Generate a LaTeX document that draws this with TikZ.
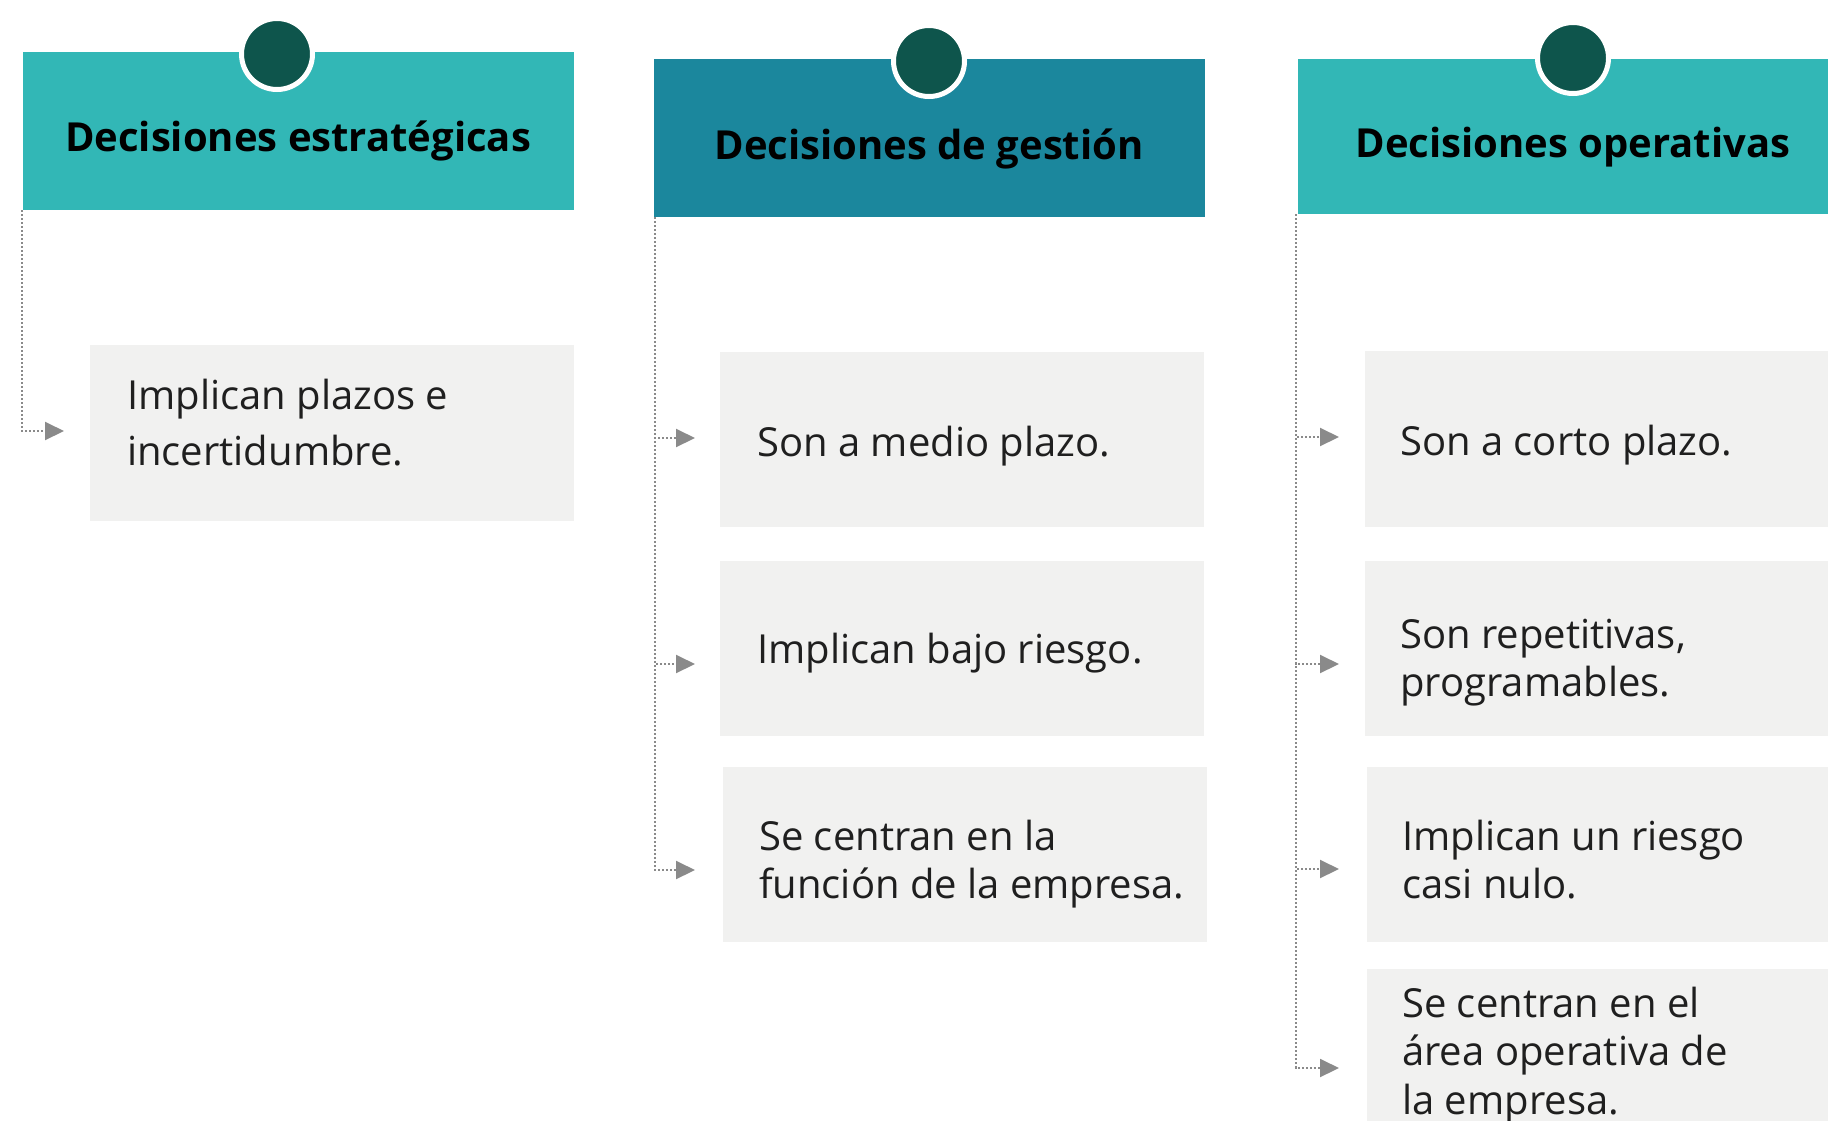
\documentclass[tikz,border=0pt]{standalone}
\usepackage{fontspec}
\setmainfont{Open Sans}
\usetikzlibrary{arrows.meta}
\definecolor{tealA}{HTML}{32B7B6}
\definecolor{tealB}{HTML}{1B879D}
\definecolor{darkdot}{HTML}{0E554C}
\definecolor{boxgray}{HTML}{F1F1F0}
\definecolor{txtc}{HTML}{1F1F1F}
\definecolor{conngray}{HTML}{8A8A8A}
\newcommand\linesA[2]{\vtop{\baselineskip=56pt\hbox{#1}\hbox{#2}}}
\newcommand\linesB[2]{\vtop{\baselineskip=48pt\hbox{#1}\hbox{#2}}}
\newcommand\linesC[3]{\vtop{\baselineskip=48.5pt\hbox{#1}\hbox{#2}\hbox{#3}}}
\begin{document}
\begin{tikzpicture}[x=1pt,y=-1pt,
  hdrbox/.style={rectangle, inner sep=0pt, minimum width=551pt, minimum height=158pt, anchor=north west},
  hdrtxt/.style={inner sep=0pt, anchor=base, text=black, font=\fontsize{40}{48}\selectfont\bfseries},
  dot/.style={circle, fill=darkdot, draw=white, line width=5pt, minimum size=71pt, inner sep=0pt},
  itembox/.style={rectangle, fill=boxgray, inner sep=0pt, minimum width=484pt, minimum height=175pt, anchor=north west},
  itemtxt/.style={inner sep=0pt, anchor=base west, text=txtc, font=\fontsize{40}{48}\selectfont},
  conn/.style={draw=conngray, line width=2pt, dash pattern=on 2pt off 2pt, -{Triangle[length=19pt,width=18pt,fill=conngray]}}
]
\clip (0,0) rectangle (1828,1120);
\fill[white] (0,0) rectangle (1828,1120);

% headers
\node[hdrbox, fill=tealA] (h1) at (23,52) {};
\node[hdrbox, fill=tealB] (h2) at (654,59) {};
\node[hdrbox, fill=tealA, minimum height=155pt] (h3) at (1298,59) {};
\node[dot] (d1) at (277,54) {};
\node[dot] (d2) at (929,61) {};
\node[dot] (d3) at (1573,58) {};
\node[hdrtxt] (h1t) at (298,151) {Decisiones estratégicas};
\node[hdrtxt] (h2t) at (929,159) {Decisiones de gestión};
\node[hdrtxt] (h3t) at (1573,157) {Decisiones operativas};

% item boxes
\node[itembox, minimum height=176pt] (b1) at (90,345) {};
\node[itembox] (b21) at (720,352) {};
\node[itembox] (b22) at (720,561) {};
\node[itembox] (b23) at (723,767) {};
\node[itembox, minimum height=176pt] (b31) at (1365,351) {};
\node[itembox] (b32) at (1365,561) {};
\node[itembox] (b33) at (1367,767) {};
\node[itembox] (b34) at (1367,969) {};

% item texts
\node[itemtxt] (t1) at (127,409) {\linesA{Implican plazos e}{incertidumbre.}};
\node[itemtxt] (t21) at (757,456) {Son a medio plazo.};
\node[itemtxt] (t22) at (757,663) {Implican bajo riesgo.};
\node[itemtxt] (t23) at (759,850) {\linesB{Se centran en la}{función de la empresa.}};
\node[itemtxt] (t31) at (1400,455) {Son a corto plazo.};
\node[itemtxt] (t32) at (1400,648) {\linesB{Son repetitivas,}{programables.}};
\node[itemtxt] (t33) at (1402,850) {\linesB{Implican un riesgo}{casi nulo.}};
\node[itemtxt] (t34) at (1402,1017) {\linesC{Se centran en el}{área operativa de}{la empresa.}};

% arrow tips
\coordinate (a1) at (64,431);
\coordinate (a21) at (695,438);
\coordinate (a22) at (695,664);
\coordinate (a23) at (695,870);
\coordinate (a31) at (1339,437);
\coordinate (a32) at (1339,664);
\coordinate (a33) at (1339,869);
\coordinate (a34) at (1339,1068);

% connectors
\draw[conn] ([xshift=-1pt]h1.south west) |- (a1);
\draw[conn] ([xshift=1pt]h2.south west) |- (a21);
\draw[conn] ([xshift=1pt]h2.south west) |- (a22);
\draw[conn] ([xshift=1pt]h2.south west) |- (a23);
\draw[conn] ([xshift=-2pt]h3.south west) |- (a31);
\draw[conn] ([xshift=-2pt]h3.south west) |- (a32);
\draw[conn] ([xshift=-2pt]h3.south west) |- (a33);
\draw[conn] ([xshift=-2pt]h3.south west) |- (a34);
\end{tikzpicture}
\end{document}
